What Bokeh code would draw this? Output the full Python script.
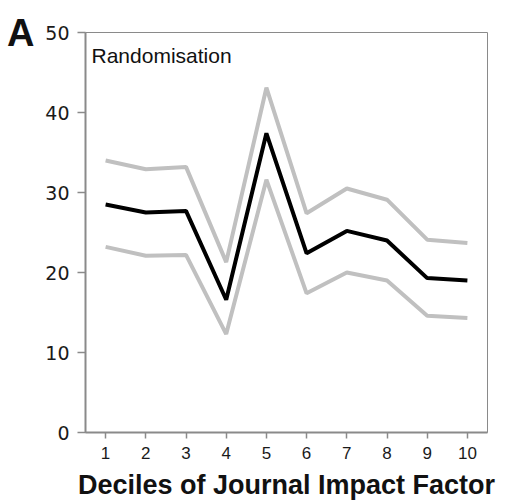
from bokeh.plotting import figure
from bokeh.models import Label, Range1d, FixedTicker, LinearAxis
from bokeh.embed import file_html
from bokeh.resources import INLINE

deciles = [1, 2, 3, 4, 5, 6, 7, 8, 9, 10]
mean_vals = [28.5, 27.5, 27.7, 16.6, 37.4, 22.4, 25.2, 24.0, 19.3, 19.0]
upper_vals = [34.0, 32.9, 33.2, 21.3, 43.1, 27.4, 30.5, 29.1, 24.1, 23.7]
lower_vals = [23.2, 22.1, 22.2, 12.3, 31.6, 17.4, 20.0, 19.0, 14.6, 14.3]
y_ticks = [0, 10, 20, 30, 40, 50]
x_label = "Deciles of Journal Impact Factor"
panel_title = "Randomisation"
panel_letter = "A"

p = figure(width=499, height=504, output_backend="svg", toolbar_location=None,
           x_range=Range1d(0.5, 10.5), y_range=Range1d(0, 50),
           min_border_left=85, min_border_right=12, min_border_top=32, min_border_bottom=72)
p.background_fill_color = "white"
p.border_fill_color = "white"
p.outline_line_color = "#8a8a8a"
p.outline_line_width = 1
p.xgrid.visible = False
p.ygrid.visible = False

for ax in (p.xaxis[0], p.yaxis[0]):
    ax.axis_line_color = "#8a8a8a"
    ax.axis_line_width = 2
    ax.major_tick_line_color = "#8a8a8a"
    ax.major_tick_line_width = 1.5
    ax.major_tick_in = 0
    ax.minor_tick_line_color = None
    ax.major_label_text_color = "#1a1a1a"

p.xaxis.ticker = FixedTicker(ticks=deciles)
p.xaxis.major_tick_out = 6
p.xaxis.major_label_text_font = "Liberation Sans"
p.xaxis.major_label_text_font_size = "17px"
p.xaxis.major_label_standoff = 8
p.xaxis.axis_label = x_label
p.xaxis.axis_label_text_font = "Liberation Sans"
p.xaxis.axis_label_text_font_style = "bold"
p.xaxis.axis_label_text_font_size = "27px"
p.xaxis.axis_label_text_color = "#111111"
p.xaxis.axis_label_standoff = 8

p.yaxis.ticker = FixedTicker(ticks=y_ticks)
p.yaxis.major_tick_out = 8
p.yaxis.major_label_text_font = "DejaVu Sans"
p.yaxis.major_label_text_font_size = "19px"
p.yaxis.major_label_standoff = 8

letter_axis = LinearAxis(ticker=FixedTicker(ticks=[50]), major_label_overrides={50: panel_letter},
                         axis_line_color=None, major_tick_line_color=None, minor_tick_line_color=None,
                         major_tick_in=0, major_tick_out=0, major_label_standoff=8,
                         major_label_text_font="Liberation Sans", major_label_text_font_style="bold",
                         major_label_text_font_size="38px", major_label_text_color="#111111")
p.add_layout(letter_axis, "left")

p.line(deciles, upper_vals, line_color="#c0c0c0", line_width=4)
p.line(deciles, lower_vals, line_color="#c0c0c0", line_width=4)
p.line(deciles, mean_vals, line_color="#000000", line_width=4)

p.add_layout(Label(x=6, y=377, x_units="screen", y_units="screen", text=panel_title,
                   text_font="Liberation Sans", text_font_size="21px",
                   text_color="#111111", text_baseline="alphabetic"))

open("out.html", "w").write(file_html(p, INLINE))
